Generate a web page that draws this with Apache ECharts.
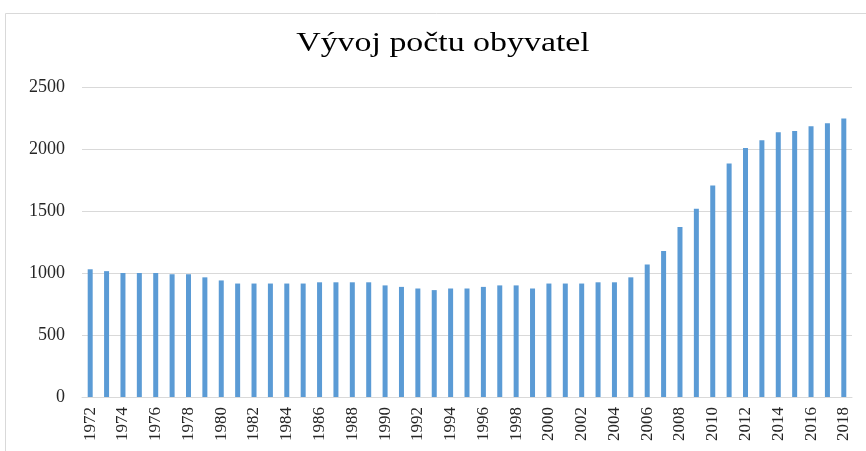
<!DOCTYPE html>
<html><head><meta charset="utf-8">
<script src="https://cdn.jsdelivr.net/npm/echarts@6/dist/echarts.min.js"></script>
<style>html,body{margin:0;padding:0;background:#fff}#c{width:866px;height:451px}</style>
</head><body><div id="c"></div>
<script>
const years = [];
for (let y = 1972; y <= 2018; y++) years.push(String(y));
const population = [1030,1015,1000,1000,1000,990,990,965,940,915,915,915,915,915,925,925,925,925,900,888,875,862,875,875,888,900,900,875,915,915,915,925,925,965,1068,1178,1370,1519,1705,1884,2008,2070,2135,2146,2184,2208,2246];
const yTicks = [0,500,1000,1500,2000,2500];
const titleText = 'Vývoj počtu obyvatel';

const chart = echarts.init(document.getElementById('c'), null, {renderer:'canvas'});
chart.setOption({
  animation:false,
  graphic:[
    {type:'rect', shape:{x:5.5,y:13.5,width:880,height:460}, style:{fill:'none', stroke:'#d9d9d9', lineWidth:1}, silent:true},
    {type:'text', x:443, y:44, scaleX:1.21, scaleY:1, silent:true,
     style:{text:titleText, x:0, y:0, align:'center', verticalAlign:'middle',
       font:'28px "Liberation Serif"', fill:'#000'}}
  ],
  grid:{left:82, right:14, top:87, bottom:54},
  xAxis:{type:'category', data:years,
    axisLine:{lineStyle:{color:'#d9d9d9'}}, axisTick:{show:false},
    axisLabel:{interval:1, rotate:90, fontFamily:'Liberation Serif', fontSize:17, color:'#262626', margin:10}},
  yAxis:{type:'value', min:yTicks[0], max:yTicks[yTicks.length-1], interval:500,
    axisLine:{show:false}, axisTick:{show:false},
    splitLine:{lineStyle:{color:'#d9d9d9'}},
    axisLabel:{fontFamily:'Liberation Serif', fontSize:18, color:'#262626', margin:17, formatter:v=>String(v)}},
  series:[{type:'bar', data:population, barWidth:5, itemStyle:{color:'#5b9bd5'}}]
});
</script></body></html>
